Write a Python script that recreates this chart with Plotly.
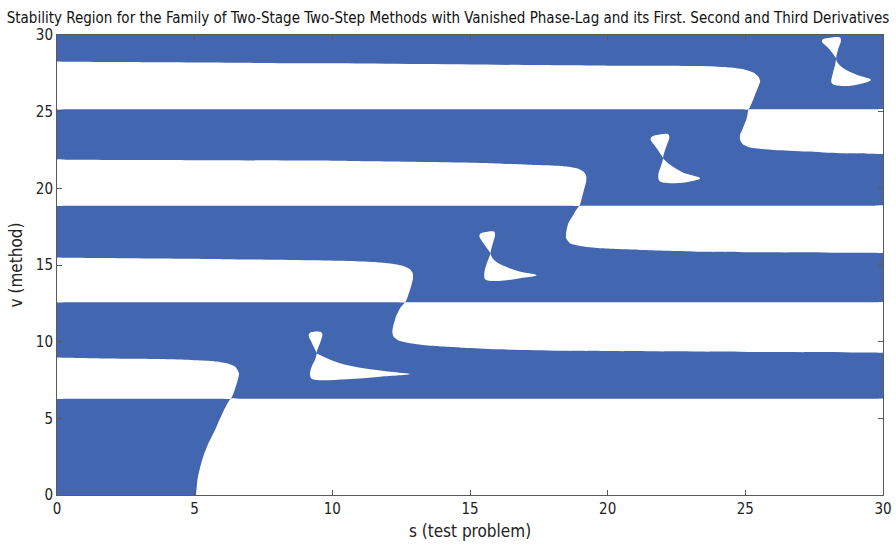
import plotly.graph_objects as go

# Outlines of the unstable (white) parts of the s-v plane; everything else is
# the stability region and shows the plot background colour.

# lower right region, right of s≈5 and below the first horizontal boundary
region_a_s = [5.05, 5.10, 5.19, 5.31, 5.50, 5.74, 5.98, 6.31, 6.60, 29.7, 30.0, 30.0, 30.0, 30.0, 29.7, 5.35]
region_a_v = [0.00, 0.98, 1.74, 2.50, 3.37, 4.24, 5.22, 6.28, 6.28, 6.28, 6.28, 6.00, 0.30, 0.00, 0.00, 0.00]

# bands reaching the left edge
band_left1_s = [0.0, 0.0, 0.3, 6.00, 6.31, 6.53, 6.61, 6.47, 6.16, 5.68, 4.20, 1.80, 0.3, 0.0, 0.0]
band_left1_v = [6.6, 6.28, 6.28, 6.28, 6.28, 7.28, 7.94, 8.37, 8.59, 8.72, 8.85, 8.90, 8.95, 8.95, 8.65]

band_left2_s = [0.0, 0.0, 0.3, 12.35, 12.64, 12.76, 12.86, 12.93, 12.92, 12.82, 12.58, 12.22, 11.61, 10.64, 6.00, 0.3, 0.0, 0.0]
band_left2_v = [12.9, 12.57, 12.57, 12.57, 12.57, 13.05, 13.59, 14.13, 14.46, 14.72, 14.94, 15.07, 15.18, 15.26, 15.38, 15.47, 15.47, 15.17]

band_left3_s = [0.0, 0.0, 0.3, 18.67, 18.97, 19.06, 19.14, 19.22, 19.22, 19.12, 18.88, 18.39, 17.18, 15.50, 10.60, 3.40, 0.3, 0.0, 0.0]
band_left3_v = [19.2, 18.87, 18.87, 18.87, 18.87, 19.35, 19.90, 20.44, 20.81, 21.09, 21.31, 21.44, 21.53, 21.66, 21.79, 21.85, 21.87, 21.87, 21.57]

band_left4_s = [0.0, 0.0, 0.3, 24.81, 25.11, 25.23, 25.35, 25.47, 25.54, 25.47, 25.29, 24.93, 24.33, 23.36, 20.00, 10.00, 0.3, 0.0, 0.0]
band_left4_v = [25.45, 25.15, 25.15, 25.15, 25.15, 25.55, 26.09, 26.63, 27.00, 27.29, 27.55, 27.77, 27.90, 27.98, 28.00, 28.15, 28.25, 28.25, 27.95]

# bands reaching the right edge
band_right2_s = [12.64, 12.46, 12.31, 12.22, 12.18, 12.22, 12.40, 12.82, 13.55, 14.76, 15.97, 18.27, 29.7, 30.0, 30.0, 30.0, 30.0, 29.7, 12.94]
band_right2_v = [12.57, 12.18, 11.63, 11.09, 10.65, 10.33, 10.07, 9.90, 9.74, 9.61, 9.50, 9.41, 9.30, 9.30, 9.60, 12.27, 12.57, 12.57, 12.57]

band_right3_s = [18.97, 18.84, 18.75, 18.57, 18.49, 18.49, 18.63, 19.00, 19.72, 21.18, 23.36, 29.7, 30.0, 30.0, 30.0, 30.0, 29.7, 19.27]
band_right3_v = [18.87, 18.55, 18.26, 17.72, 17.07, 16.74, 16.42, 16.24, 16.09, 15.98, 15.87, 15.80, 15.80, 16.10, 18.57, 18.87, 18.87, 18.87]

band_right4_s = [25.11, 25.05, 24.91, 24.81, 24.81, 24.91, 25.17, 26.02, 27.23, 28.44, 29.7, 30.0, 30.0, 30.0, 30.0, 29.7, 25.41]
band_right4_v = [25.15, 24.57, 23.92, 23.48, 23.16, 22.88, 22.66, 22.50, 22.40, 22.29, 22.26, 22.25, 22.55, 24.85, 25.15, 25.15, 25.15]

# small bow-tie shaped islands: neck, upper lobe, neck, lower lobe
island1_s = [9.44, 9.25, 9.14, 9.18, 9.32, 9.59, 9.64, 9.57, 9.44,
             9.55, 9.80, 10.28, 11.13, 12.10, 12.82, 11.73, 10.52, 9.43, 9.23, 9.19, 9.25, 9.37]
island1_v = [9.24, 9.95, 10.40, 10.57, 10.64, 10.62, 10.45, 10.00, 9.24,
             9.13, 8.92, 8.59, 8.26, 8.04, 7.89, 7.72, 7.55, 7.50, 7.61, 7.94, 8.37, 8.80]

island2_s = [15.75, 15.49, 15.34, 15.38, 15.52, 15.87, 15.91, 15.85, 15.75,
             15.82, 16.03, 16.70, 17.42, 16.82, 16.03, 15.55, 15.52, 15.61]
island2_v = [15.77, 16.42, 16.88, 17.05, 17.14, 17.18, 17.00, 16.53, 15.77,
             15.44, 15.11, 14.63, 14.33, 14.14, 13.96, 14.07, 14.46, 15.11]

island3_s = [22.02, 21.78, 21.56, 21.60, 21.78, 22.20, 22.24, 22.15, 22.02,
             22.09, 22.27, 22.75, 23.36, 22.99, 22.39, 21.88, 21.84, 21.93]
island3_v = [21.96, 22.62, 23.18, 23.36, 23.48, 23.53, 23.30, 22.83, 21.96,
             21.81, 21.53, 21.02, 20.66, 20.44, 20.33, 20.48, 20.87, 21.42]

island4_s = [28.30, 28.02, 27.78, 27.82, 28.00, 28.44, 28.47, 28.38, 28.30,
             28.34, 28.56, 29.05, 29.56, 29.17, 28.56, 28.14, 28.18, 28.26]
island4_v = [28.49, 29.14, 29.58, 29.72, 29.80, 29.83, 29.60, 29.14, 28.49,
             28.22, 27.83, 27.40, 27.07, 26.81, 26.68, 26.86, 27.51, 28.05]

bands = [
    (region_a_s, region_a_v),
    (band_left1_s, band_left1_v), (band_left2_s, band_left2_v),
    (band_left3_s, band_left3_v), (band_left4_s, band_left4_v),
    (band_right2_s, band_right2_v), (band_right3_s, band_right3_v),
    (band_right4_s, band_right4_v),
]
islands = [
    (island1_s, island1_v), (island2_s, island2_v),
    (island3_s, island3_v), (island4_s, island4_v),
]

tick_vals = [0, 5, 10, 15, 20, 25, 30]
tick_text = ["0", "5", "10", "15", "20", "25", "30"]

STABLE = "rgb(67,102,176)"
FONT = "Liberation Sans Narrow, DejaVu Sans Condensed, Liberation Sans, Arial, sans-serif"

fig = go.Figure()
for group, smooth in ((bands, 0.6), (islands, 1.0)):
    for xs, ys in group:
        fig.add_trace(go.Scatter(
            x=xs, y=ys, mode="lines", fill="toself",
            fillcolor="white",
            line=dict(width=0, color="white", shape="spline", smoothing=smooth),
            hoverinfo="skip", showlegend=False,
        ))

axis_common = dict(
    range=[0, 30], tickvals=tick_vals, ticktext=tick_text,
    showgrid=False, zeroline=False, showline=True, mirror="ticks",
    linecolor="#5a5a5a", linewidth=1, ticks="inside", ticklen=5,
    tickcolor="#5a5a5a", tickfont=dict(family=FONT, size=15, color="#222"),
    fixedrange=True, automargin=False,
)

fig.update_layout(
    width=896, height=545,
    margin=dict(l=57, r=13, t=35, b=50),
    paper_bgcolor="white", plot_bgcolor=STABLE,
    title=dict(
        text="Stability Region for the Family of Two-Stage Two-Step Methods with Vanished Phase-Lag and its First. Second and Third Derivatives",
        x=0.5, xref="container", xanchor="center",
        y=0.968, yref="container", yanchor="middle",
        font=dict(family=FONT, size=15, color="#111"),
    ),
    xaxis=dict(axis_common, title=dict(text="s (test problem)", standoff=8,
                                       font=dict(family=FONT, size=17, color="#222"))),
    yaxis=dict(axis_common, title=dict(text="v (method)", standoff=8,
                                       font=dict(family=FONT, size=17, color="#222"))),
)

fig.write_html("out.html")
